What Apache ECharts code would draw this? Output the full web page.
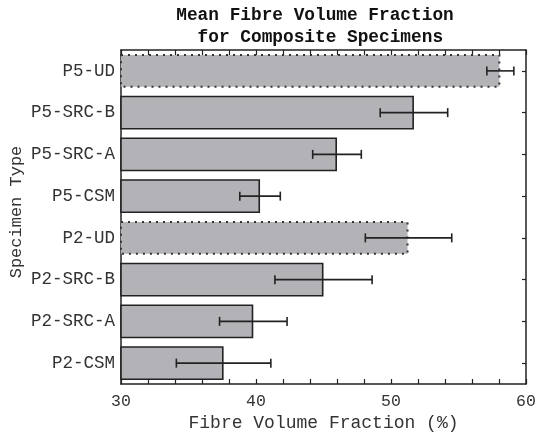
<!DOCTYPE html>
<html>
<head>
<meta charset="utf-8">
<script src="https://cdn.jsdelivr.net/npm/echarts@6/dist/echarts.min.js"></script>
<style>
html, body { margin: 0; padding: 0; background: #fff; }
#chart { width: 536px; height: 432px; }
</style>
</head>
<body>
<div id="chart"></div>
<script>
// specimen types, bottom to top
var categories = ['P2-CSM', 'P2-SRC-A', 'P2-SRC-B', 'P2-UD', 'P5-CSM', 'P5-SRC-A', 'P5-SRC-B', 'P5-UD'];
var means = [37.6, 39.8, 45.0, 51.3, 40.3, 46.0, 51.7, 58.1];
var errors = [3.5, 2.5, 3.6, 3.2, 1.5, 1.8, 2.5, 1.0];
var xTicks = [30, 40, 50, 60];

var font = '"Liberation Mono", "DejaVu Sans Mono", monospace';
var ink = '#222';
var fill = '#b3b3b7';

var barData = means.map(function (v, i) {
    var ud = categories[i].indexOf('UD') > -1;
    return {
        value: v,
        itemStyle: {
            color: fill,
            borderColor: ud ? '#333' : ink,
            borderWidth: ud ? 2 : 1.6,
            borderType: ud ? [2, 5] : 'solid'
        }
    };
});
var errData = means.map(function (v, i) {
    return [v - errors[i], v + errors[i], i];
});

var chart = echarts.init(document.getElementById('chart'));

var xBase = {
    type: 'value',
    min: xTicks[0],
    max: xTicks[xTicks.length - 1],
    interval: 10,
    axisLine: { show: true, lineStyle: { color: ink, width: 1.5 } },
    axisTick: { show: true, inside: true, length: 5, lineStyle: { color: ink, width: 1.2 } },
    minorTick: { show: true, splitNumber: 5, length: 5, lineStyle: { color: ink, width: 1.2 } },
    splitLine: { show: false }
};

var option = {
    animation: false,
    title: {
        text: 'Mean Fibre Volume Fraction\n for Composite Specimens',
        left: 315,
        top: 5,
        padding: 0,
        textAlign: 'center',
        textStyle: {
            fontFamily: font,
            fontWeight: 'bold',
            fontSize: 17.8,
            lineHeight: 22,
            color: '#111'
        }
    },
    grid: { left: 121, right: 10, top: 50, bottom: 48, outerBoundsMode: 'none', containLabel: false },
    xAxis: [
        Object.assign({}, xBase, {
            position: 'bottom',
            name: 'Fibre Volume Fraction (%)',
            nameLocation: 'middle',
            nameGap: 30,
            nameMoveOverlap: false,
            nameTextStyle: { fontFamily: font, fontSize: 18, color: '#333' },
            axisLabel: { fontFamily: font, fontSize: 16.5, color: '#333', margin: 9 }
        }),
        Object.assign({}, xBase, {
            position: 'top',
            axisLabel: { show: false }
        })
    ],
    yAxis: [
        {
            type: 'category',
            data: categories,
            position: 'left',
            name: 'Specimen Type',
            nameLocation: 'middle',
            nameGap: 96,
            nameMoveOverlap: false,
            nameTextStyle: { fontFamily: font, fontSize: 17, color: '#333', padding: [0, 0, 0, 10] },
            axisLine: { show: true, lineStyle: { color: ink, width: 1.5 } },
            axisTick: { show: true, inside: true, alignWithLabel: true, length: 4, lineStyle: { color: ink, width: 1.2 } },
            axisLabel: { fontFamily: font, fontSize: 17.5, color: '#333', margin: 6 }
        },
        {
            type: 'category',
            data: categories,
            position: 'right',
            axisLine: { show: true, lineStyle: { color: ink, width: 1.5 } },
            axisTick: { show: true, inside: true, alignWithLabel: true, length: 4, lineStyle: { color: ink, width: 1.2 } },
            axisLabel: { show: false }
        }
    ],
    series: [
        {
            type: 'bar',
            xAxisIndex: 0,
            yAxisIndex: 0,
            barCategoryGap: '19%',
            data: barData
        },
        {
            type: 'custom',
            xAxisIndex: 0,
            yAxisIndex: 0,
            data: errData,
            encode: { x: [0, 1], y: 2 },
            z: 10,
            renderItem: function (params, api) {
                var lo = api.coord([api.value(0), api.value(2)]);
                var hi = api.coord([api.value(1), api.value(2)]);
                var h = 4.5;
                var st = { stroke: ink, lineWidth: 1.6 };
                return {
                    type: 'group',
                    children: [
                        { type: 'line', shape: { x1: lo[0], y1: lo[1], x2: hi[0], y2: hi[1] }, style: st },
                        { type: 'line', shape: { x1: lo[0], y1: lo[1] - h, x2: lo[0], y2: lo[1] + h }, style: st },
                        { type: 'line', shape: { x1: hi[0], y1: hi[1] - h, x2: hi[0], y2: hi[1] + h }, style: st }
                    ]
                };
            }
        }
    ]
};

chart.setOption(option);
</script>
</body>
</html>
